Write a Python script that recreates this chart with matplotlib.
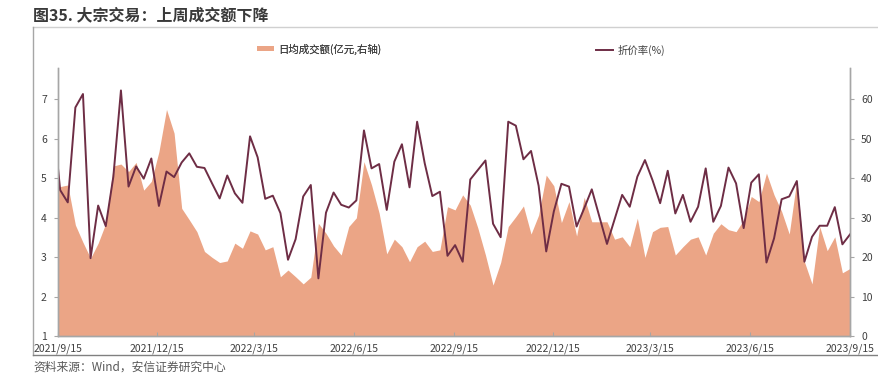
import matplotlib
matplotlib.use('Agg')
import matplotlib.pyplot as plt
import pandas as pd
from matplotlib.lines import Line2D

plt.rcParams['font.family'] = ['Noto Sans CJK SC', 'DejaVu Sans']

# weekly data, first value sits on 2021/9/15
first_date = '2021-09-15'
weekly_dates = pd.date_range('2021-09-17', periods=105, freq='7D')
dates = pd.DatetimeIndex([first_date]).append(weekly_dates)

# 日均成交额(亿元) - right axis
turnover = [37.7,
            37.9, 38.3, 28.2, 23.8, 19.8, 23.6, 28.6, 43.1, 43.6, 41.7, 44.0, 37.0, 39.2, 46.7,
            57.4, 51.4, 32.4, 29.5, 26.5, 21.5, 20.0, 18.7, 19.1, 23.6, 22.3, 26.7, 25.9,
            21.9, 22.7, 15.1, 16.8, 15.1, 13.3, 15.0, 28.6, 26.1, 22.9, 20.6, 27.8, 30.0,
            44.2, 38.3, 31.2, 20.9, 24.6, 22.7, 18.9, 22.7, 24.1, 21.5, 21.9, 32.8, 32.0,
            35.8, 33.2, 27.4, 20.6, 13.0, 18.7, 27.8, 30.3, 33.0, 25.9, 30.7, 40.8, 38.1,
            28.8, 34.1, 25.4, 35.2, 29.0, 29.0, 29.0, 24.6, 25.2, 22.7, 29.9, 20.0, 26.5, 27.6,
            27.8, 20.6, 22.7, 24.6, 25.2, 20.6, 26.1, 28.5, 27.0, 26.5, 29.5, 35.4, 34.1,
            41.3, 35.8, 31.6, 25.9, 39.6, 18.9, 13.3, 27.8, 21.7, 25.2, 16.1, 17.2]

# 折价率(%) - left axis
discount = [5.25,
            4.70, 4.39, 6.79, 7.13, 2.98, 4.31, 3.79, 5.04, 7.22, 4.79, 5.30, 4.99, 5.50, 4.30,
            5.17, 5.03, 5.40, 5.63, 5.29, 5.26, 4.87, 4.49, 5.07, 4.62, 4.38, 6.06, 5.53,
            4.48, 4.56, 4.12, 2.94, 3.46, 4.54, 4.83, 2.47, 4.13, 4.64, 4.33, 4.26, 4.44,
            6.21, 5.25, 5.36, 4.20, 5.42, 5.86, 4.77, 6.43, 5.38, 4.55, 4.66, 3.04, 3.31,
            2.89, 4.97, 5.21, 5.45, 3.85, 3.51, 6.43, 6.33, 5.48, 5.69, 4.81, 3.15, 4.16,
            4.86, 4.79, 3.78, 4.24, 4.72, 4.03, 3.34, 3.96, 4.58, 4.28, 5.04, 5.46, 4.95, 4.37,
            5.19, 4.11, 4.58, 3.90, 4.28, 5.25, 3.90, 4.30, 5.27, 4.87, 3.74, 4.89, 5.10,
            2.87, 3.48, 4.47, 4.54, 4.93, 2.89, 3.52, 3.80, 3.80, 4.27, 3.33, 3.58]

xtick_labels = ['2021/9/15', '2021/12/15', '2022/3/15', '2022/6/15', '2022/9/15',
                '2022/12/15', '2023/3/15', '2023/6/15', '2023/9/15']
left_ticks = [1, 2, 3, 4, 5, 6, 7]
right_ticks = [0, 10, 20, 30, 40, 50, 60]

area_color = '#EBA586'
line_color = '#6E2D45'
axis_color = '#a6a6a6'
text_color = '#404040'

fig = plt.figure(figsize=(8.79, 3.84), dpi=100)
ax = fig.add_axes([0.066, 0.1237, 0.901, 0.7005])
ax2 = ax.twinx()

# area behind, line in front
ax2.set_zorder(1)
ax.set_zorder(2)
ax.patch.set_visible(False)

area = ax2.fill_between(dates, turnover, 0, color=area_color, linewidth=0)
line, = ax.plot(dates, discount, color=line_color, linewidth=1.4)

xticks = pd.to_datetime(xtick_labels, format='%Y/%m/%d')
ax.set_xlim(xticks[0], xticks[-1])
ax.set_xticks(xticks)
ax.set_xticklabels(xtick_labels)

ax.set_ylim(1, 7.8)
ax.set_yticks(left_ticks)
ax2.set_ylim(0, 68)
ax2.set_yticks(right_ticks)

for a in (ax, ax2):
    a.spines['top'].set_visible(False)
    for s in ('left', 'right', 'bottom'):
        a.spines[s].set_color(axis_color)
        a.spines[s].set_linewidth(1.0)
    a.tick_params(colors=axis_color, labelcolor=text_color, labelsize=7.5, length=3, width=0.8)
ax.tick_params(axis='x', direction='in', pad=5)
ax.tick_params(axis='y', pad=5)
ax2.tick_params(axis='y', pad=5)

# legends
leg1 = fig.legend(handles=[area], labels=['日均成交额(亿元,右轴)'],
                  loc='center left', bbox_to_anchor=(257 / 879, 1 - 49 / 384),
                  frameon=False, fontsize=7.5, handlelength=1.6, handleheight=0.35,
                  handletextpad=0.45, borderpad=0, borderaxespad=0, labelcolor=text_color)
leg2 = fig.legend(handles=[line], labels=['折价率(%)'],
                  loc='center left', bbox_to_anchor=(596 / 879, 1 - 50 / 384),
                  frameon=False, fontsize=7.5, handlelength=1.6,
                  handletextpad=0.45, borderpad=0, borderaxespad=0, labelcolor=text_color)
fig.add_artist(leg1)

# outer frame
fl = 33 / 879
fr = 878 / 879
ft = 1 - 27 / 384
fb = 1 - 355 / 384
fig.add_artist(Line2D([fl, fr], [ft, ft], transform=fig.transFigure, color='#d0d0d0', linewidth=1.0))
fig.add_artist(Line2D([fl, fl], [fb, ft], transform=fig.transFigure, color=axis_color, linewidth=1.0))
fig.add_artist(Line2D([fl, fr], [fb, fb], transform=fig.transFigure, color='#808080', linewidth=1.0))

fig.text(33 / 879, 1 - 15 / 384, '图35. 大宗交易：上周成交额下降', fontsize=11.5,
         fontweight='bold', color='#3a3a3a', va='center', ha='left')
fig.text(33 / 879, 1 - 367 / 384, '资料来源：Wind，安信证券研究中心', fontsize=8.5,
         fontstyle='italic', color='#595959', va='center', ha='left')

fig.savefig('out.png', dpi=100)
